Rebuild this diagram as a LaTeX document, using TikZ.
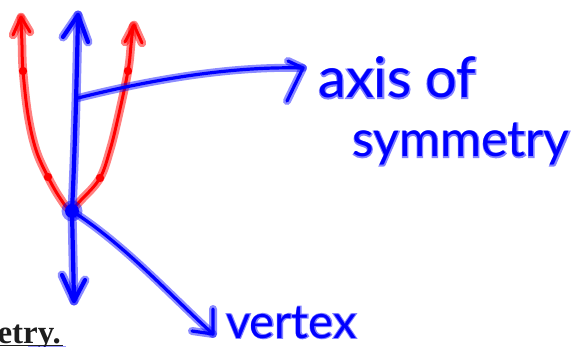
\documentclass[tikz,border=0pt]{standalone}
\usepackage{fontspec}
\newfontfamily\handfont{Lato}
\newfontfamily\handhalo[FakeBold=4]{Lato}
\newfontfamily\headfont{Liberation Serif}
\definecolor{pen}{RGB}{0,0,255}
\definecolor{penglow}{RGB}{130,130,255}
\definecolor{ink}{RGB}{255,0,0}
\definecolor{heading}{RGB}{30,30,30}
% a word written with the blue pen: glow underneath, stroke on top
\newcommand{\penword}[1]{\rlap{\textcolor{penglow}{\handhalo #1}}\textcolor{pen}{\handfont #1}}
\begin{document}
\begin{tikzpicture}[x=1pt,y=-1pt,
  bluepen/.style={draw=pen, line width=3.2pt, line cap=round, line join=round,
    preaction={draw=pen, draw opacity=0.45, line width=8pt, line cap=round, line join=round}},
  axispen/.style={draw=pen, line width=4.2pt, line cap=round, line join=round,
    preaction={draw=pen, draw opacity=0.45, line width=9pt, line cap=round, line join=round}},
  redpen/.style={draw=ink, line width=3pt, line cap=round, line join=round,
    preaction={draw=ink, draw opacity=0.5, line width=8.5pt, line cap=round, line join=round}},
  hand/.style={anchor=base west, inner sep=0pt, font=\fontsize{#1}{#1}\selectfont},
]
\useasboundingbox (0,0) rectangle (577,347);
\clip (0,0) rectangle (577,347);

% key points of the sketch
\coordinate (vtx) at (72,211);
\coordinate (top) at (78,15);
\coordinate (bot) at (74,301);
\coordinate (mid) at (78,98);
\coordinate (axtip) at (303,68);
\coordinate (vtip) at (213,334);

% red parabola with its arrow ends and marked points
\draw[redpen] plot[smooth, tension=0.6] coordinates
  {(21,18) (22,45) (23,71) (28,115) (36,150) (48,177) (60,198) (70,209)
   (82,199) (100,178) (110,150) (118,118) (128,71) (131,45) (133,26)};
\draw[redpen] (13,35) -- (21,17) -- (30,32);
\draw[redpen] (125,42) -- (134,25) -- (142,43);
\foreach \p in {(23,71),(48,177),(100,178),(128,71)}
  \fill[ink] \p circle[radius=4.2pt];

% axis of symmetry
\draw[axispen] (top) .. controls (77,70) and (75,150) .. (vtx) -- (bot);
\draw[axispen] (63,37) -- (top) -- (88,42);
\draw[axispen] (62,275) -- (bot) -- (85,280);

% vertex blob
\fill[pen, fill opacity=0.45] (vtx) circle[radius=10.5pt];
\fill[pen] (vtx) circle[radius=7pt];

% pointers to the labels
\draw[bluepen] (mid) .. controls (150,80) and (230,66) .. (axtip);
\draw[bluepen] (288,61) -- (axtip) -- (287,101);
\draw[bluepen] (vtx) .. controls (125,245) and (170,295) .. (vtip);
\draw[bluepen] (192,331) -- (vtip) -- (213,309);

% handwritten labels
\node[hand=56] (axislbl) at (318,98) {\penword{axis}};
\node[hand=56] (oflbl) at (425,98) {\penword{of}};
\node[hand=50] (symlbl) at (352,157) {\penword{symmetry}};
\node[hand=47] (vertexlbl) at (226,338) {\penword{vertex}};

% heading fragment at the lower edge
\node[anchor=base east, inner sep=0pt, text=heading,
      font=\headfont\bfseries\fontsize{33}{33}\selectfont] (head) at (61,343) {etry.};
\draw[heading, line width=1.4pt] (0,345.5) -- (63,345.5);
\draw[pen, draw opacity=0.4, line width=1.5pt] (28,347) -- (66,347);
\end{tikzpicture}
\end{document}
